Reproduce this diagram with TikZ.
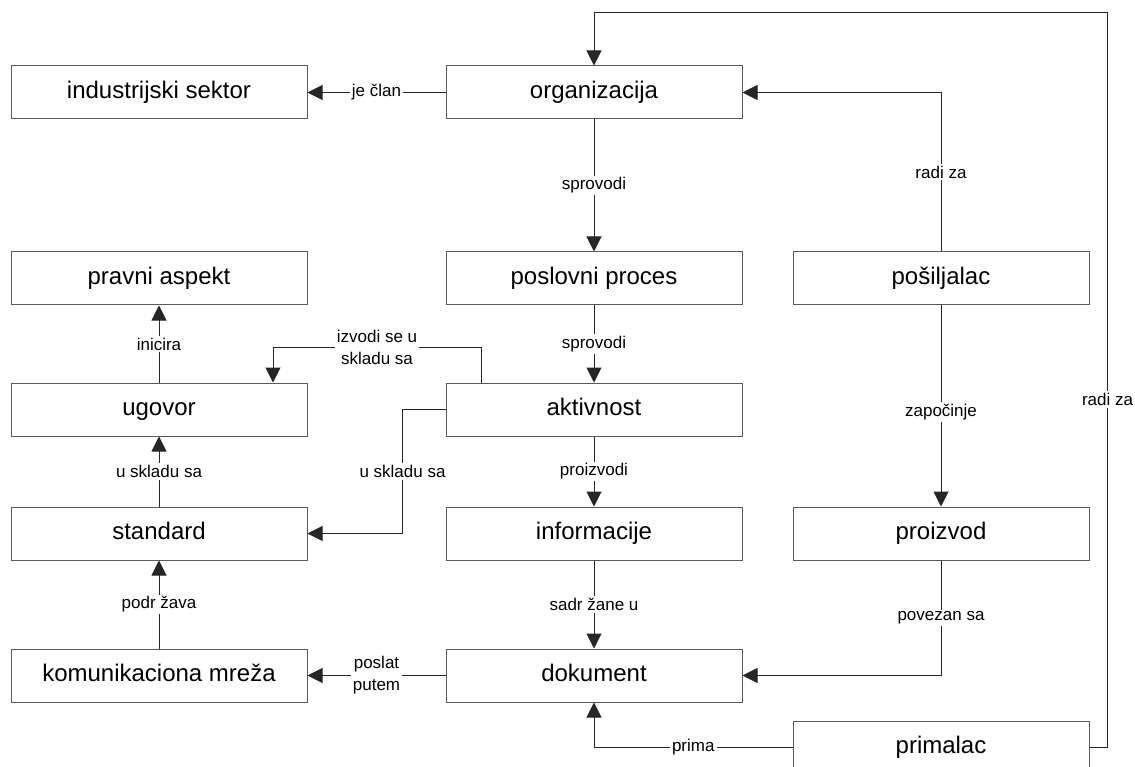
\documentclass[tikz,border=0pt]{standalone}
\usepackage{fontspec}
\setmainfont{Liberation Sans}
\usetikzlibrary{arrows.meta}
\begin{document}
\begin{tikzpicture}[x=1pt,y=-1pt,
  box/.style={draw=black!65,line width=1pt,rectangle,minimum width=296pt,minimum height=53pt,inner sep=0pt,text height=17.5pt,text depth=5pt,font=\fontsize{24}{28}\selectfont},
  conn/.style={draw=black!85,line width=1pt,-{Triangle[length=15pt,width=15pt]}},
  lbl/.style={fill=white,inner sep=2pt,align=center,font=\fontsize{17}{22}\selectfont}]
\useasboundingbox (0,0) rectangle (1135,767);
\fill[white] (0,0) rectangle (1135,767);
% boxes
\node[box] (ind) at (159,92.5) {industrijski sektor};
\node[box] (org) at (594,92.5) {organizacija};
\node[box] (pravni) at (159,278.5) {pravni aspekt};
\node[box] (poslovni) at (594,278.5) {poslovni proces};
\node[box] (posiljalac) at (941,278.5) {pošiljalac};
\node[box] (ugovor) at (159,409.5) {ugovor};
\node[box] (aktivnost) at (594,409.5) {aktivnost};
\node[box] (standard) at (159,533.5) {standard};
\node[box] (informacije) at (594,533.5) {informacije};
\node[box] (proizvod) at (941,533.5) {proizvod};
\node[box] (komunikaciona) at (159,675.5) {komunikaciona mreža};
\node[box] (dokument) at (594,675.5) {dokument};
\node[box] (primalac) at (941,747.5) {primalac};
% connectors
\draw[conn] (org.west) -- node[lbl]{je član} (ind.east);
\draw[conn] (posiljalac.north) |- node[lbl,pos=0.25]{radi za} (org.east);
\draw[conn] (org.south) -- node[lbl]{sprovodi} (poslovni.north);
\draw[conn] (poslovni.south) -- node[lbl]{sprovodi} (aktivnost.north);
\draw[conn] (aktivnost.south) -- node[lbl]{proizvodi} (informacije.north);
\draw[conn] (informacije.south) -- node[lbl]{sadr žane u} (dokument.north);
\draw[conn] (posiljalac.south) -- node[lbl,pos=0.53]{započinje} (proizvod.north);
\draw[conn] (proizvod.south) |- node[lbl,pos=0.25]{povezan sa} (dokument.east);
\draw[conn] (dokument.west) -- node[lbl]{poslat\\putem} (komunikaciona.east);
\draw[conn] (komunikaciona.north) -- node[lbl]{podr žava} (standard.south);
\draw[conn] (standard.north) -- node[lbl]{u skladu sa} (ugovor.south);
\draw[conn] (ugovor.north) -- node[lbl]{inicira} (pravni.south);
\draw[conn] ([xshift=-113pt]aktivnost.north) -- ++(0,-35) -| node[lbl,pos=0.25]{izvodi se u\\skladu sa} ([xshift=114pt]ugovor.north);
\draw[conn] (aktivnost.west) -- ++(-43,0) |- node[lbl,pos=0.25]{u skladu sa} (standard.east);
\draw[conn] (primalac.west) -| node[lbl,pos=0.25]{prima} (dokument.south);
\draw[conn] (primalac.east) -- ++(18,0) -- node[lbl,pos=0.474]{radi za} ++(0,-734.5) -| (org.north);
\end{tikzpicture}
\end{document}
